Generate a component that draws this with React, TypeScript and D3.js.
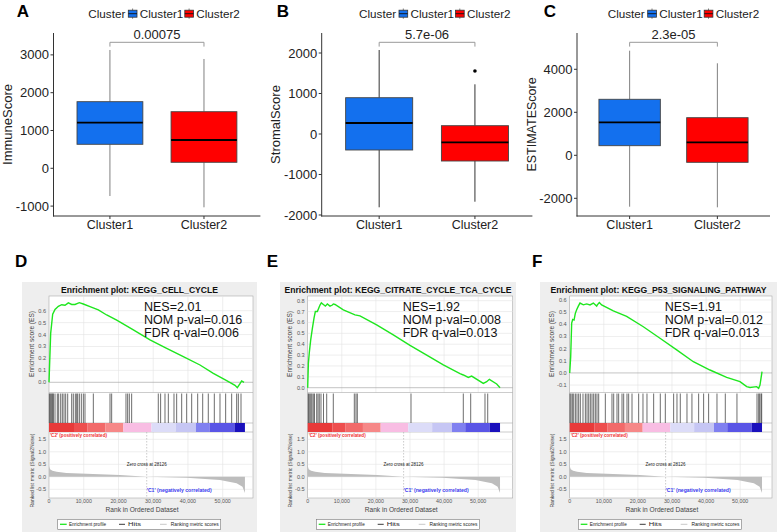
import React from "react";
import * as d3 from "d3";

const FONT = "'Liberation Sans', Arial, Helvetica, sans-serif";

// ---------------- Top: boxplots ----------------
const clusters = ["Cluster1", "Cluster2"];
const boxColors = ["#1370ee", "#ff0000"];

const immuneMin = [-733, -1032];
const immuneQ1 = [635, 159];
const immuneMedian = [1206, 749];
const immuneQ3 = [1762, 1497];
const immuneMax = [3130, 2892];
const immuneOutliers: number[][] = [[], []];
const immuneTicks = [-1000, 0, 1000, 2000, 3000];

const stromalMin = [-1810, -1672];
const stromalQ1 = [-395, -667];
const stromalMedian = [272, -205];
const stromalQ3 = [896, 205];
const stromalMax = [2074, 1227];
const stromalOutliers: number[][] = [[], [1556]];
const stromalTicks = [-2000, -1000, 0, 1000, 2000];

const estimateMin = [-2390, -2419];
const estimateQ1 = [447, -326];
const estimateMedian = [1535, 605];
const estimateQ3 = [2605, 1749];
const estimateMax = [4865, 4279];
const estimateOutliers: number[][] = [[], []];
const estimateTicks = [-2000, 0, 2000, 4000];

const panelLetters = ["A", "B", "C"];
const scoreNames = ["ImmuneScore", "StromalScore", "ESTIMATEScore"];
const pValues = ["0.00075", "5.7e-06", "2.3e-05"];

// ---------------- Bottom: GSEA ----------------
const gseaLetters = ["D", "E", "F"];
const gseaTitles = [
  "Enrichment plot: KEGG_CELL_CYCLE",
  "Enrichment plot: KEGG_CITRATE_CYCLE_TCA_CYCLE",
  "Enrichment plot: KEGG_P53_SIGNALING_PATHWAY",
];
const nesValues = ["NES=2.01", "NES=1.92", "NES=1.91"];
const nomPValues = ["NOM p-val=0.016", "NOM p-val=0.008", "NOM p-val=0.012"];
const fdrQValues = ["FDR q-val=0.006", "FDR q-val=0.013", "FDR q-val=0.013"];

const datasetSize = 56400;
const zeroCross = 28126;
const rankTicks = [0, 10000, 20000, 30000, 40000, 50000];
const metricTicks = [-0.5, 0, 0.5, 1.0, 1.5];

const esTicksD = [0, 0.1, 0.2, 0.3, 0.4, 0.5, 0.6];
const esTicksE = [0, 0.1, 0.2, 0.3, 0.4, 0.5, 0.6, 0.7, 0.8];
const esTicksF = [-0.1, 0, 0.1, 0.2, 0.3, 0.4, 0.5, 0.6];

const esRanksD = [0, 480, 1060, 1730, 2690, 3650, 4610, 5570, 6530, 7480, 8730, 9880, 11800, 14200, 16600, 19490, 24280, 29070, 33870, 38660, 43460, 47300, 51140, 53540, 54210, 54980, 55460, 56130];
const esValuesD = [0, 0.41, 0.57, 0.61, 0.637, 0.65, 0.645, 0.665, 0.652, 0.652, 0.667, 0.656, 0.634, 0.606, 0.564, 0.52, 0.44, 0.355, 0.285, 0.215, 0.145, 0.075, 0.014, -0.025, -0.045, -0.012, 0.012, 0.0];

const esRanksE = [0, 200, 490, 880, 1370, 1850, 2240, 2830, 3220, 3610, 4000, 4590, 5170, 5760, 6540, 7230, 7520, 8010, 10450, 13870, 15330, 20220, 25100, 30000, 34900, 39770, 44660, 45640, 47100, 48080, 51500, 52490, 53270, 55420, 56400];
const esValuesE = [0, 0.224, 0.33, 0.44, 0.546, 0.64, 0.7, 0.7, 0.73, 0.76, 0.78, 0.765, 0.75, 0.77, 0.75, 0.76, 0.77, 0.765, 0.715, 0.67, 0.66, 0.577, 0.485, 0.39, 0.3, 0.21, 0.13, 0.117, 0.095, 0.107, 0.04, 0.055, 0.077, 0.034, 0.0];

const esRanksF = [0, 290, 580, 880, 1270, 1650, 2040, 2530, 3020, 4000, 4980, 5950, 6930, 7910, 8100, 8690, 9370, 12790, 16700, 21590, 26480, 31370, 36260, 41140, 46030, 49940, 51900, 52870, 54820, 55410, 55800, 56100, 56400];
const esValuesF = [0, 0.134, 0.41, 0.44, 0.435, 0.49, 0.52, 0.55, 0.575, 0.56, 0.568, 0.56, 0.575, 0.55, 0.56, 0.58, 0.56, 0.51, 0.465, 0.38, 0.285, 0.19, 0.092, 0.024, -0.036, -0.072, -0.113, -0.12, -0.113, -0.127, -0.1, -0.045, 0.01];

const hitsD = [100, 350, 600, 850, 1100, 1240, 1730, 2400, 2780, 3360, 3840, 4320, 4800, 5380, 6530, 7000, 7580, 7970, 8260, 8740, 9310, 9890, 10360, 12760, 17560, 18040, 22160, 22640, 23120, 23790, 31460, 32130, 33390, 34350, 35980, 36750, 38190, 39630, 41070, 42800, 44240, 45850, 47590, 49220, 50850, 52580, 54020, 54500, 55270];
const hitsE = [180, 380, 670, 970, 1260, 1640, 2000, 2640, 3020, 3400, 3900, 4630, 5570, 7510, 13670, 14160, 14550, 30290, 45630, 47800, 51990, 52790];
const hitsF = [100, 390, 780, 1170, 1660, 2140, 2630, 3120, 3900, 4590, 5080, 5570, 6050, 6540, 7030, 7520, 8000, 8500, 10450, 12400, 12900, 13870, 14360, 15340, 15830, 16800, 17290, 18270, 20220, 21490, 22660, 24620, 26570, 28040, 30480, 31460, 32430, 34390, 35850, 37810, 39270, 40740, 43190, 45630, 49050, 54930, 55420, 55710, 56100, 56300];

const metricRanks = [0, 300, 1000, 2200, 5000, 10800, 20400, 28126, 39600, 49200, 54000, 55700, 56400];
const metricValues = [0.43, 0.3, 0.24, 0.2, 0.15, 0.12, 0.07, 0, -0.04, -0.13, -0.26, -0.4, -0.65];

const barStarts = [0, 7200, 11000, 16200, 21400, 29500, 36500, 42300, 46200, 53400];
const barColors = ["#e83a3a", "#ee4e4e", "#f26a6a", "#f68888", "#f8bde3", "#dcdcf8", "#c6c6f4", "#8080f0", "#5a55e6", "#1a10bc"];

// ---------------- Layout ----------------
const boxLayouts = [
  { x0: 53.5, x1: 260.4, domain: [-1262, 3579], legendX: 88.3, whisker: "#808080" },
  { x0: 321.7, x1: 532.4, domain: [-2025, 2494], legendX: 359, whisker: "#333" },
  { x0: 577, x1: 770, domain: [-2823, 5688], legendX: 607.7, whisker: "#808080" },
];
const letterX = [16.7, 276.7, 543.7];

const gseaLayouts = [
  { bgX0: 22, bgX1: 257, plotL: 49, plotR: 253, px10k: 34.74, esDomain: [-0.0855, 0.723], letterX: 15 },
  { bgX0: 280, bgX1: 516, plotL: 307.7, plotR: 512.7, px10k: 34.1, esDomain: [-0.044, 0.843], letterX: 266.7 },
  { bgX0: 540, bgX1: 777, plotL: 569.7, plotR: 772, px10k: 34.1, esDomain: [-0.161, 0.633], letterX: 532 },
];
const titleLengths = [157, 227, 216];

function BoxPanel({ i }: { i: number }) {
  const L = boxLayouts[i];
  const data = [
    [immuneMin, immuneQ1, immuneMedian, immuneQ3, immuneMax, immuneOutliers, immuneTicks],
    [stromalMin, stromalQ1, stromalMedian, stromalQ3, stromalMax, stromalOutliers, stromalTicks],
    [estimateMin, estimateQ1, estimateMedian, estimateQ3, estimateMax, estimateOutliers, estimateTicks],
  ][i] as any[];
  const [mins, q1s, meds, q3s, maxs, outs, ticks] = data;
  const yTop = 33, yBot = 216;
  const x = d3.scalePoint<string>().domain(clusters).range([L.x0, L.x1]).padding(0.6);
  const step = x.step();
  const bw = step * 0.7;
  const y = d3.scaleLinear().domain(L.domain).range([yBot, yTop]);
  const c1 = x(clusters[0])!, c2 = x(clusters[1])!;
  const bracketY = 42.3;
  const lx = L.legendX;
  const legendItems = [
    { sx: lx + 40, tx: lx + 51.5 },
    { sx: lx + 96.5, tx: lx + 108 },
  ];
  return (
    <g fontFamily={FONT}>
      <text x={letterX[i]} y={16.7} fontSize={17} fontWeight="bold">{panelLetters[i]}</text>
      {/* legend */}
      <text x={lx} y={17.5} fontSize={11.7} fill="#222">Cluster</text>
      {legendItems.map((it, k) => (
        <g key={k}>
          <line x1={it.sx + 4.3} x2={it.sx + 4.3} y1={8.5} y2={18.8} stroke="#666" strokeWidth={0.8} />
          <rect x={it.sx} y={10.2} width={8.7} height={7} fill={boxColors[k]} stroke="#333" strokeWidth={0.8} />
          <line x1={it.sx} x2={it.sx + 8.7} y1={13.7} y2={13.7} stroke="#111" strokeWidth={0.9} />
          <text x={it.tx} y={17.5} fontSize={11.7} fill="#222">{clusters[k]}</text>
        </g>
      ))}
      {/* axes */}
      <line x1={L.x0} x2={L.x0} y1={yTop} y2={yBot + 0.5} stroke="#333" strokeWidth={1} />
      <line x1={L.x0 - 0.5} x2={L.x1} y1={yBot} y2={yBot} stroke="#333" strokeWidth={1} />
      {ticks.map((t: number) => (
        <g key={t}>
          <line x1={L.x0 - 3} x2={L.x0} y1={y(t)} y2={y(t)} stroke="#333" />
          <text x={L.x0 - 4.5} y={y(t) + 4.6} fontSize={13} textAnchor="end" fill="#222">{t}</text>
        </g>
      ))}
      {clusters.map((c) => (
        <g key={c}>
          <line x1={x(c)} x2={x(c)} y1={yBot} y2={yBot + 3} stroke="#333" />
          <text x={x(c)} y={229} fontSize={12.5} textAnchor="middle" fill="#222">{c}</text>
        </g>
      ))}
      <text transform={`translate(${L.x0 - 41.5},${124.5}) rotate(-90)`} fontSize={i === 2 ? 12.5 : 13} textAnchor="middle" fill="#222">{scoreNames[i]}</text>
      {/* boxes */}
      {clusters.map((c, k) => {
        const cx = x(c)!;
        return (
          <g key={c}>
            <line x1={cx} x2={cx} y1={y(maxs[k])} y2={y(q3s[k])} stroke={L.whisker} strokeWidth={1} />
            <line x1={cx} x2={cx} y1={y(q1s[k])} y2={y(mins[k])} stroke={L.whisker} strokeWidth={1} />
            <rect x={cx - bw / 2} y={y(q3s[k])} width={bw} height={y(q1s[k]) - y(q3s[k])} fill={boxColors[k]} stroke="#444" strokeWidth={0.9} />
            <line x1={cx - bw / 2} x2={cx + bw / 2} y1={y(meds[k])} y2={y(meds[k])} stroke="#000" strokeWidth={1.8} />
            {outs[k].map((o: number, j: number) => (
              <circle key={j} cx={cx} cy={y(o)} r={1.8} fill="#000" />
            ))}
          </g>
        );
      })}
      {/* significance bracket */}
      <path d={`M${c1},${bracketY + 4.3}V${bracketY}H${c2}V${bracketY + 4.3}`} fill="none" stroke="#999" strokeWidth={1} />
      <text x={(c1 + c2) / 2} y={39.3} fontSize={13} textAnchor="middle" fill="#222">{pValues[i]}</text>
    </g>
  );
}

function GseaPanel({ i }: { i: number }) {
  const L = gseaLayouts[i];
  const esTicks = [esTicksD, esTicksE, esTicksF][i];
  const esRanks = [esRanksD, esRanksE, esRanksF][i];
  const esValues = [esValuesD, esValuesE, esValuesF][i];
  const hits = [hitsD, hitsE, hitsF][i];
  const Y0 = 296, Y1 = 392.5, H1 = 423, CB1 = 432, R1 = 498;
  const x = d3.scaleLinear().domain([0, 10000]).range([L.plotL, L.plotL + L.px10k]);
  const yEs = d3.scaleLinear().domain(L.esDomain).range([Y1, Y0]);
  const yR = d3.scaleLinear().domain([-0.848, 1.792]).range([R1, CB1]);
  const esLine = d3.line<number>().x((_, k) => x(esRanks[k])).y((v) => yEs(v))(esValues) || "";
  const area = d3.area<number>().x((_, k) => x(metricRanks[k])).y0(yR(0)).y1((v) => yR(v))(metricValues) || "";
  const pl = L.plotL, pr = L.plotR;
  const fmt = d3.format(",");
  const bx = pl + 8.7;
  const zx = x(zeroCross);
  return (
    <g fontFamily={FONT}>
      <text x={L.letterX} y={266.7} fontSize={17} fontWeight="bold">{gseaLetters[i]}</text>
      <rect x={L.bgX0} y={282} width={L.bgX1 - L.bgX0} height={250} fill="#eeeeee" />
      <text x={(L.bgX0 + L.bgX1) / 2} y={292.5} fontSize={8.5} fontWeight="bold" textAnchor="middle" textLength={titleLengths[i]} lengthAdjust="spacingAndGlyphs" fill="#111">{gseaTitles[i]}</text>
      {/* plot backgrounds */}
      <rect x={pl} y={Y0} width={pr - pl} height={R1 - Y0} fill="#fff" stroke="#aaa" strokeWidth={0.6} />
      {/* grid */}
      {rankTicks.slice(1).map((t) => (
        <g key={t}>
          <line x1={x(t)} x2={x(t)} y1={Y0} y2={Y1} stroke="#e2e2e2" strokeWidth={0.6} />
          <line x1={x(t)} x2={x(t)} y1={CB1} y2={R1} stroke="#e2e2e2" strokeWidth={0.6} />
        </g>
      ))}
      {esTicks.map((t) => (
        <line key={t} x1={pl} x2={pr} y1={yEs(t)} y2={yEs(t)} stroke={t === 0 ? "#9a9a9a" : "#e2e2e2"} strokeWidth={0.6} />
      ))}
      {metricTicks.map((t) => (
        <line key={t} x1={pl} x2={pr} y1={yR(t)} y2={yR(t)} stroke="#e2e2e2" strokeWidth={0.6} />
      ))}
      <line x1={pl} x2={pr} y1={Y1} y2={Y1} stroke="#aaa" strokeWidth={0.6} />
      <line x1={pl} x2={pr} y1={H1} y2={H1} stroke="#aaa" strokeWidth={0.6} />
      <line x1={pl} x2={pr} y1={CB1} y2={CB1} stroke="#aaa" strokeWidth={0.6} />
      {/* ES curve */}
      <path d={esLine} fill="none" stroke="#1ee61e" strokeWidth={1.4} />
      {/* hits */}
      {hits.map((h, k) => (
        <line key={k} x1={x(h)} x2={x(h)} y1={Y1 + 1} y2={H1} stroke="#2a2a2a" strokeWidth={0.8} opacity={0.85} />
      ))}
      {/* color bar */}
      {barStarts.map((s, k) => {
        const e = k + 1 < barStarts.length ? barStarts[k + 1] : datasetSize;
        return <rect key={k} x={x(s)} y={H1} width={x(e) - x(s)} height={CB1 - H1} fill={barColors[k]} />;
      })}
      {/* ranked metric */}
      <path d={area} fill="#bdbdbd" />
      <line x1={zx} x2={zx} y1={CB1} y2={R1} stroke="#aaa" strokeWidth={0.6} strokeDasharray="1.5,1.5" />
      <text x={zx} y={466} fontSize={4.6} textAnchor="middle" textLength={40} lengthAdjust="spacingAndGlyphs" fill="#222">Zero cross at {zeroCross}</text>
      <text x={pl + 1} y={436.5} fontSize={4.6} fontWeight="bold" textLength={57} lengthAdjust="spacingAndGlyphs" fill="#f03030">'C2' (positively correlated)</text>
      <text x={zx} y={491.5} fontSize={4.6} fontWeight="bold" textLength={65} lengthAdjust="spacingAndGlyphs" fill="#3a3af0">'C1' (negatively correlated)</text>
      {/* axes ticks */}
      {esTicks.map((t) => (
        <text key={t} x={pl - 3} y={yEs(t) + 2} fontSize={5.6} textAnchor="end" fill="#555">{t.toFixed(1)}</text>
      ))}
      {metricTicks.map((t) => (
        <text key={t} x={pl - 3} y={yR(t) + 2} fontSize={5.6} textAnchor="end" fill="#555">{t.toFixed(1)}</text>
      ))}
      {rankTicks.map((t) => (
        <text key={t} x={x(t)} y={502.6} fontSize={5.3} textAnchor="middle" fill="#555">{fmt(t)}</text>
      ))}
      <text transform={`translate(${pl - 15.5},${344}) rotate(-90)`} fontSize={6.5} textAnchor="middle" textLength={66} lengthAdjust="spacingAndGlyphs" fill="#444">Enrichment score (ES)</text>
      <text transform={`translate(${pl - 15.5},${470.5}) rotate(-90)`} fontSize={6} textAnchor="middle" textLength={74} lengthAdjust="spacingAndGlyphs" fill="#444">Ranked list metric (Signal2Noise)</text>
      <text x={(pl + pr) / 2 - 9} y={511.5} fontSize={6.6} textAnchor="middle" fill="#444">Rank in Ordered Dataset</text>
      {/* stats */}
      <text x={pl + 95} y={311} fontSize={12.5} fill="#111">{nesValues[i]}</text>
      <text x={pl + 95} y={324} fontSize={12.5} fill="#111">{nomPValues[i]}</text>
      <text x={pl + 95} y={337} fontSize={12.5} fill="#111">{fdrQValues[i]}</text>
      {/* legend */}
      <rect x={bx} y={519.3} width={163} height={10} fill="#fff" stroke="#777" strokeWidth={0.6} />
      <line x1={bx + 2.3} x2={bx + 9} y1={524.3} y2={524.3} stroke="#1ee61e" strokeWidth={1.3} />
      <text x={bx + 11.3} y={526.4} fontSize={6.2} textLength={37} lengthAdjust="spacingAndGlyphs" fill="#222">Enrichment profile</text>
      <line x1={bx + 61.3} x2={bx + 67.3} y1={524.3} y2={524.3} stroke="#222" strokeWidth={0.9} />
      <text x={bx + 70.3} y={526.4} fontSize={6.2} textLength={13} lengthAdjust="spacingAndGlyphs" fill="#222">Hits</text>
      <line x1={bx + 102.3} x2={bx + 109} y1={524.3} y2={524.3} stroke="#c8c8c8" strokeWidth={1} />
      <text x={bx + 113} y={526.4} fontSize={6.2} textLength={48} lengthAdjust="spacingAndGlyphs" fill="#222">Ranking metric scores</text>
    </g>
  );
}

export default function App() {
  return (
    <div style={{ position: "absolute", left: 0, top: 0 }}>
      <svg width={777} height={532} viewBox="0 0 777 532" style={{ display: "block", background: "#fff" }}>
        <rect width={777} height={532} fill="#fff" />
        {[0, 1, 2].map((i) => <BoxPanel key={i} i={i} />)}
        {[0, 1, 2].map((i) => <GseaPanel key={i} i={i} />)}
      </svg>
    </div>
  );
}
